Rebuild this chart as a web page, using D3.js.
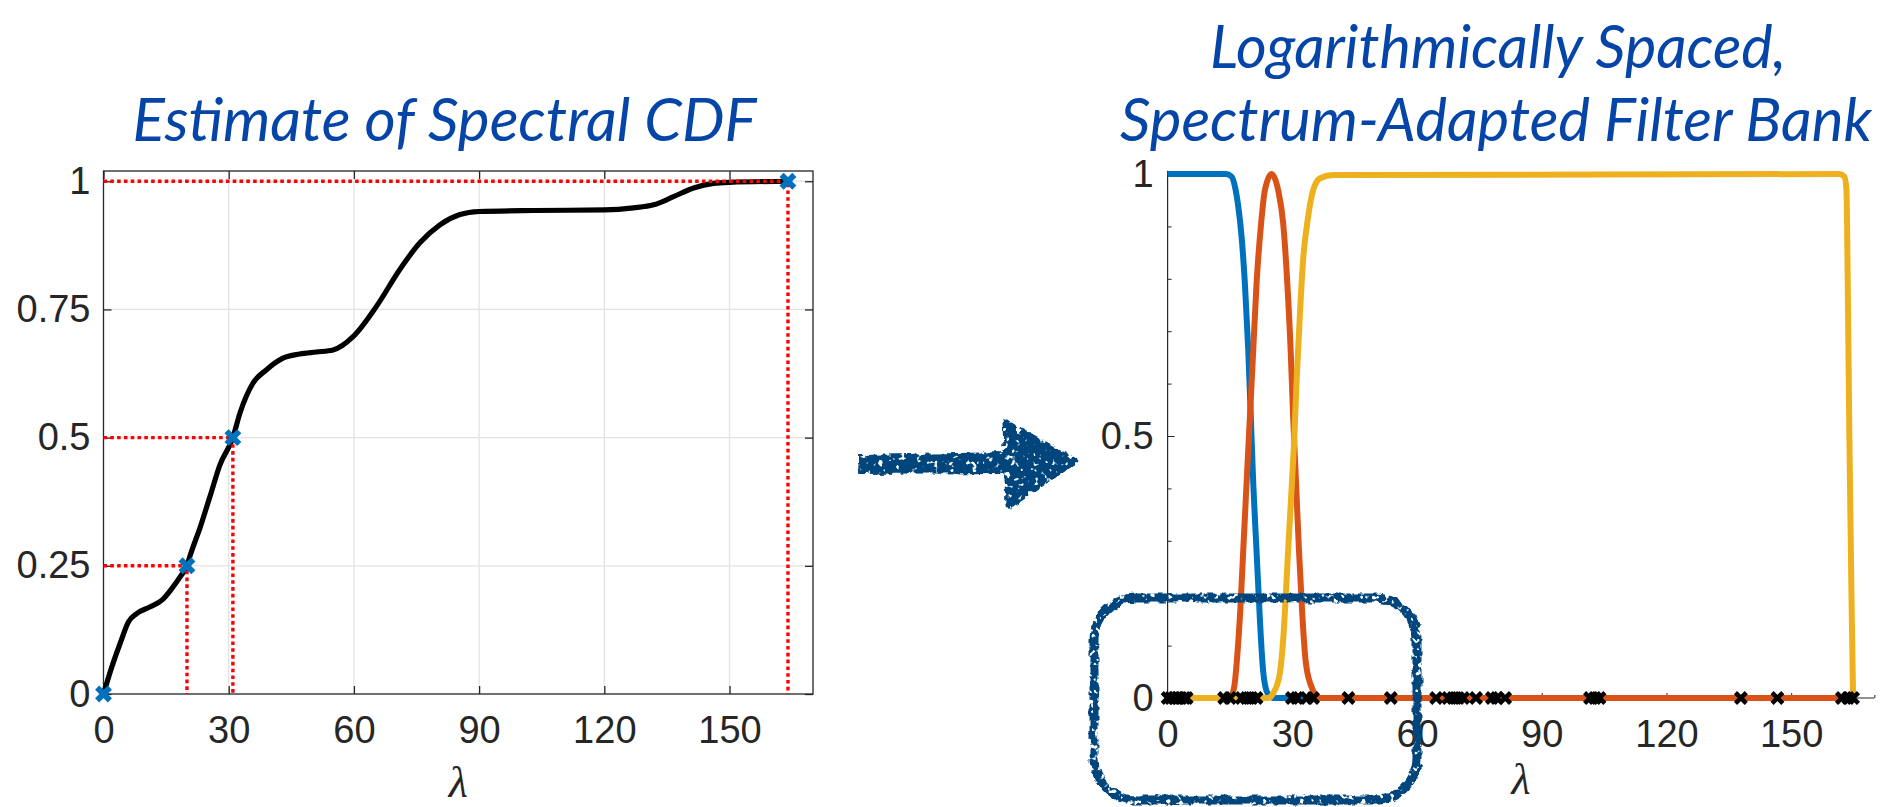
<!DOCTYPE html>
<html>
<head>
<meta charset="utf-8">
<script src="https://cdn.jsdelivr.net/npm/d3@7"></script>
<style>
  html, body { margin: 0; padding: 0; background: #fff; }
  svg { display: block; }
</style>
</head>
<body>
<svg id="fig" width="1889" height="807"></svg>
<script>
// ---------- Left panel: estimated spectral CDF ----------
const cdfLambda = [0, 2, 4, 6, 8, 11.2, 14, 16.4, 18.4, 20, 20.8, 23.2, 25.5, 27.9, 31, 32.7, 35.8, 39, 43, 47, 51, 55, 59.8, 65.4, 71, 75.8, 80.6, 85.4, 90, 103, 120, 127, 131.8, 136.6, 141.4, 146.2, 150, 164];
const cdfValue  = [0, 0.053, 0.099, 0.141, 0.157, 0.170, 0.183, 0.206, 0.229, 0.25, 0.271, 0.326, 0.385, 0.447, 0.5, 0.548, 0.606, 0.632, 0.655, 0.663, 0.667, 0.671, 0.697, 0.756, 0.828, 0.88, 0.915, 0.935, 0.941, 0.943, 0.944, 0.948, 0.954, 0.970, 0.987, 0.996, 0.998, 1.0];

// Quantile points picked off the CDF (level -> lambda)
const quantileLambda = [0, 20, 31, 164];
const quantileValue  = [0, 0.25, 0.5, 1];

const cdfXTicks = [0, 30, 60, 90, 120, 150];
const cdfYTicks = [0, 0.25, 0.5, 0.75, 1];
const cdfYTickLabels = ["0", "0.25", "0.5", "0.75", "1"];

// ---------- Right panel: spectrum-adapted filter bank ----------
const lowpassLambda = [0, 14, 15.4, 16.2, 17, 17.8, 18.6, 19.4, 20, 20.6, 21.4, 22.2, 23, 24, 25.5, 164.9];
const lowpassValue  = [1, 1, 0.995, 0.976, 0.938, 0.88, 0.79, 0.664, 0.54, 0.41, 0.28, 0.15, 0.05, 0.01, 0, 0];

const bandLambda = [0, 15, 16, 16.8, 17.5, 18.2, 19, 19.8, 20.6, 21.4, 22.5, 23.4, 25, 26.6, 27.8, 28.8, 29.6, 30.2, 30.9, 31.6, 32.4, 33.1, 34.3, 36.7, 164.9];
const bandValue  = [0, 0, 0.02, 0.085, 0.17, 0.282, 0.41, 0.537, 0.664, 0.791, 0.906, 0.969, 1, 0.969, 0.906, 0.791, 0.664, 0.537, 0.41, 0.282, 0.16, 0.079, 0.028, 0, 0];

const highLambda = [0, 24.2, 25.4, 27, 27.8, 29, 29.9, 30.5, 31, 31.8, 32.6, 33.8, 35, 36.7, 39.9, 161.5, 162.8, 163.3, 163.6, 164, 164.5, 164.9];
const highValue  = [0, 0, 0.009, 0.047, 0.111, 0.282, 0.41, 0.5, 0.6, 0.728, 0.836, 0.918, 0.969, 0.992, 0.998, 1, 0.995, 0.97, 0.8, 0.5, 0.2, 0];

const eigenvalues = [0, 0.8, 1.6, 2.4, 3.2, 4.0, 4.6, 13.6, 15.0, 17.8, 19.0, 20.2, 21.4, 29.9, 31.1, 33.5, 35.0, 43.5, 53.7, 64.6, 67.5, 68.7, 69.9, 71.1, 74.2, 78.0, 79.2, 81.2, 101.6, 102.8, 103.9, 137.9, 146.7, 162.2, 163.7, 164.9];

const bankXTicks = [0, 30, 60, 90, 120, 150];
const bankXMinorTicks = [5, 10, 15, 20, 25, 35, 40, 45, 50, 55, 65, 70, 75, 80, 85, 95, 100, 105, 110, 115, 125, 130, 135, 140, 145, 155, 160, 165, 170];
const bankYTicks = [0, 0.5, 1];
const bankYTickLabels = ["0", "0.5", "1"];
const bankYMinorTicks = [0.1, 0.2, 0.3, 0.4, 0.6, 0.7, 0.8, 0.9];

// ---------- styling ----------
const C = {
  ink: "#262626",
  grid: "#e3e3e3",
  title: "#0645a8",
  chalk: "#05457b",
  blue: "#0072BD",
  orange: "#D95319",
  yellow: "#EDB120",
  red: "#ff0000"
};
const tickFont = "'Liberation Sans', Arial, Helvetica, sans-serif";
const tickSize = 38;
const titleFont = "Lato, 'Open Sans', sans-serif";

const svg = d3.select("#fig");
svg.append("rect").attr("width", 1889).attr("height", 807).attr("fill", "#fff");

// chalk texture for the hand-drawn arrow and outline: ragged edges plus a few gaps
const defs = svg.append("defs");
const f = defs.append("filter").attr("id", "chalk")
  .attr("x", "-10%").attr("y", "-10%").attr("width", "120%").attr("height", "120%");
f.append("feTurbulence").attr("type", "fractalNoise").attr("baseFrequency", 0.14)
  .attr("numOctaves", 2).attr("seed", 4).attr("result", "n1");
f.append("feDisplacementMap").attr("in", "SourceGraphic").attr("in2", "n1")
  .attr("scale", 6).attr("xChannelSelector", "R").attr("yChannelSelector", "G").attr("result", "rough");
f.append("feTurbulence").attr("type", "fractalNoise").attr("baseFrequency", 0.18)
  .attr("numOctaves", 2).attr("seed", 23).attr("result", "n2");
f.append("feColorMatrix").attr("in", "n2").attr("type", "matrix")
  .attr("values", "0 0 0 0 0  0 0 0 0 0  0 0 0 0 0  -10 0 0 0 7.2").attr("result", "holes");
f.append("feComposite").attr("in", "rough").attr("in2", "holes").attr("operator", "in");

const xMark = s => `M${-s},${-s}L${s},${s}M${-s},${s}L${s},${-s}`;

// place a title line so that it spans [x0, x0 + width] by adjusting its font size
function fitTitle(sel, x0, width, baseSize) {
  sel.attr("x", x0).style("font-size", baseSize + "px");
  const w = sel.node().getComputedTextLength();
  if (w > 0) sel.style("font-size", (baseSize * width / w).toFixed(2) + "px");
  return sel;
}

// ================= LEFT PANEL =================
const xL = d3.scaleLinear().domain([0, 170]).range([103.5, 813]);
const yL = d3.scaleLinear().domain([0, 1.02]).range([694, 171]);
const gL = svg.append("g");

// grid
gL.append("g").selectAll("line").data(cdfXTicks.filter(d => d > 0)).join("line")
  .attr("x1", d => xL(d)).attr("x2", d => xL(d)).attr("y1", yL(0)).attr("y2", yL(1.02))
  .attr("stroke", C.grid).attr("stroke-width", 1.3);
gL.append("g").selectAll("line").data(cdfYTicks.filter(d => d > 0)).join("line")
  .attr("y1", d => yL(d)).attr("y2", d => yL(d)).attr("x1", xL(0)).attr("x2", xL(170))
  .attr("stroke", C.grid).attr("stroke-width", 1.3);

function styleAxis(g) {
  g.select(".domain").remove();
  g.selectAll(".tick line").attr("stroke", C.ink).attr("stroke-width", 1.3);
  g.selectAll(".tick text").attr("fill", C.ink).style("font-family", tickFont).style("font-size", tickSize + "px");
}

gL.append("g").attr("transform", `translate(0,${yL(0)})`)
  .call(d3.axisBottom(xL).tickValues(cdfXTicks).tickSize(-8).tickPadding(22).tickFormat(d3.format("d")))
  .call(styleAxis);
gL.append("g").attr("transform", `translate(0,${yL(1.02)})`)
  .call(d3.axisTop(xL).tickValues(cdfXTicks).tickSize(-8).tickFormat(""))
  .call(styleAxis);
gL.append("g").attr("transform", `translate(${xL(0)},0)`)
  .call(d3.axisLeft(yL).tickValues(cdfYTicks).tickSize(-8).tickPadding(13).tickFormat((d, i) => cdfYTickLabels[i]))
  .call(styleAxis);
gL.append("g").attr("transform", `translate(${xL(170)},0)`)
  .call(d3.axisRight(yL).tickValues(cdfYTicks).tickSize(-8).tickFormat(""))
  .call(styleAxis);

// box
gL.append("rect").attr("x", xL(0)).attr("y", yL(1.02))
  .attr("width", xL(170) - xL(0)).attr("height", yL(0) - yL(1.02))
  .attr("fill", "none").attr("stroke", C.ink).attr("stroke-width", 1.3);

// CDF curve
const cdfPts = cdfLambda.map((l, i) => [l, cdfValue[i]]);
gL.append("path").datum(cdfPts)
  .attr("d", d3.line().x(d => xL(d[0])).y(d => yL(d[1])).curve(d3.curveMonotoneX))
  .attr("fill", "none").attr("stroke", "#000").attr("stroke-width", 5.2)
  .attr("stroke-linejoin", "round");

// dotted guides from each quantile level to its lambda
const qPts = quantileLambda.map((l, i) => [l, quantileValue[i]]).filter(d => d[1] > 0);
gL.append("g").selectAll("path").data(qPts).join("path")
  .attr("d", d => `M${xL(0)},${yL(d[1])}H${xL(d[0])}V${yL(0)}`)
  .attr("fill", "none").attr("stroke", C.red).attr("stroke-width", 3.4)
  .attr("stroke-dasharray", "3.6,3.2");

// quantile markers
gL.append("g").selectAll("path").data(quantileLambda.map((l, i) => [l, quantileValue[i]])).join("path")
  .attr("transform", d => `translate(${xL(d[0])},${yL(d[1])})`)
  .attr("d", xMark(6.4)).attr("stroke", C.blue).attr("stroke-width", 5.8).attr("fill", "none");

// axis label
gL.append("text").attr("x", (xL(0) + xL(170)) / 2).attr("y", 797)
  .attr("text-anchor", "middle").attr("fill", C.ink)
  .style("font-family", "'Liberation Serif', 'Times New Roman', serif").style("font-style", "italic")
  .style("font-size", "44px").text("λ");

// title
const titleL = svg.append("text").attr("y", 141)
  .attr("fill", C.title).style("font-family", titleFont).style("font-style", "italic")
  .text("Estimate of Spectral CDF");
fitTitle(titleL, 132.5, 624, 63);

// ================= RIGHT PANEL =================
const xR = d3.scaleLinear().domain([0, 170]).range([1167.6, 1874.3]);
const yR = d3.scaleLinear().domain([0, 1]).range([698, 174]);
const gR = svg.append("g");

// axes (only left and bottom)
gR.append("g").attr("transform", `translate(0,${yR(0)})`)
  .call(d3.axisBottom(xR).tickValues(bankXTicks).tickSize(-5).tickPadding(22).tickFormat(d3.format("d")))
  .call(styleAxis);
gR.append("g").attr("transform", `translate(0,${yR(0)})`)
  .call(d3.axisBottom(xR).tickValues(bankXMinorTicks).tickSize(-3).tickFormat(""))
  .call(styleAxis);
gR.append("g").attr("transform", `translate(${xR(0)},0)`)
  .call(d3.axisLeft(yR).tickValues(bankYTicks).tickSize(-7).tickPadding(14).tickFormat((d, i) => bankYTickLabels[i]))
  .call(styleAxis);
gR.append("g").attr("transform", `translate(${xR(0)},0)`)
  .call(d3.axisLeft(yR).tickValues(bankYMinorTicks).tickSize(-4).tickFormat(""))
  .call(styleAxis);
gR.selectAll(".tick line").attr("stroke-width", 1);
gR.append("line").attr("x1", xR(0)).attr("x2", xR(0)).attr("y1", yR(0)).attr("y2", yR(1.006))
  .attr("stroke", C.ink).attr("stroke-width", 1.2);
gR.append("line").attr("x1", xR(0)).attr("x2", xR(170)).attr("y1", yR(0)).attr("y2", yR(0))
  .attr("stroke", C.ink).attr("stroke-width", 1.2);

// filters
const filters = [
  { lam: lowpassLambda, val: lowpassValue, color: C.blue },
  { lam: bandLambda, val: bandValue, color: C.orange },
  { lam: highLambda, val: highValue, color: C.yellow }
];
const bankLine = d3.line().x(d => xR(d[0])).y(d => yR(d[1])).curve(d3.curveMonotoneX);
gR.append("g").selectAll("path").data(filters).join("path")
  .attr("d", d => bankLine(d.lam.map((l, i) => [l, d.val[i]])))
  .attr("fill", "none").attr("stroke", d => d.color).attr("stroke-width", 6)
  .attr("stroke-linejoin", "round");

// eigenvalue markers on the axis
gR.append("g").selectAll("path").data(eigenvalues).join("path")
  .attr("transform", d => `translate(${xR(d)},${yR(0)})`)
  .attr("d", xMark(5.4)).attr("stroke", "#000").attr("stroke-width", 4.4).attr("fill", "none");

gR.append("text").attr("x", (xR(0) + xR(170)) / 2).attr("y", 794)
  .attr("text-anchor", "middle").attr("fill", C.ink)
  .style("font-family", "'Liberation Serif', 'Times New Roman', serif").style("font-style", "italic")
  .style("font-size", "44px").text("λ");

// two-line title
const titleR = svg.append("g").attr("fill", C.title)
  .style("font-family", titleFont).style("font-style", "italic");
fitTitle(titleR.append("text").attr("y", 68).text("Logarithmically Spaced,"), 1210, 576, 63);
fitTitle(titleR.append("text").attr("y", 141).text("Spectrum-Adapted Filter Bank"), 1120, 752, 63);

// ================= hand-drawn annotations =================
const chalk = svg.append("g").attr("filter", "url(#chalk)").attr("fill", C.chalk).attr("stroke", C.chalk);
// arrow shaft + head
chalk.append("path")
  .attr("d", "M859,456 L1008,453 L1008,472 L859,473 Z")
  .attr("stroke-width", 2).attr("stroke-linejoin", "round");
chalk.append("path")
  .attr("d", "M1006,423 L1074,461 L1009,505 Z")
  .attr("stroke-width", 7).attr("stroke-linejoin", "round");
// rounded outline around the low end of the spectrum
chalk.append("rect").attr("x", 1094).attr("y", 598).attr("width", 323).attr("height", 202).attr("rx", 42)
  .attr("fill", "none").attr("stroke-width", 9);
</script>
</body>
</html>
